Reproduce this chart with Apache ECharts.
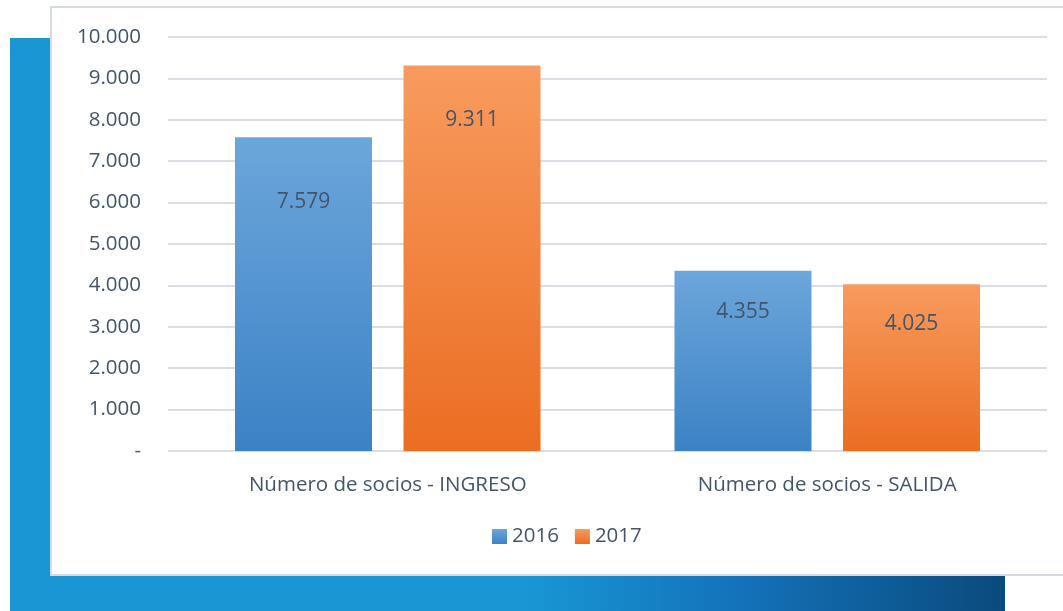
<!DOCTYPE html>
<html lang="es">
<head>
<meta charset="UTF-8">
<title>Número de socios</title>
<script src="https://cdn.jsdelivr.net/npm/echarts@6/dist/echarts.min.js"></script>
<style>
  html, body { margin: 0; padding: 0; background: #fff; }
  #main { width: 1063px; height: 611px; }
</style>
</head>
<body>
<div id="main"></div>
<script>
// datos
var categorias = ['Número de socios - INGRESO', 'Número de socios - SALIDA'];
var anios = ['2016', '2017'];
var valores2016 = [7579, 4355];
var valores2017 = [9311, 4025];
var ticksY = [0, 1000, 2000, 3000, 4000, 5000, 6000, 7000, 8000, 9000, 10000];

var txt = '#44546A';
var fuente = '"Open Sans", "Noto Sans", sans-serif';

function miles(v) {
  if (v === 0) return '-';
  return String(v).replace(/\B(?=(\d{3})+(?!\d))/g, '.');
}

function degradado(a, b) {
  return new echarts.graphic.LinearGradient(0, 0, 0, 1, [
    { offset: 0, color: a }, { offset: 1, color: b }
  ]);
}

var chart = echarts.init(document.getElementById('main'));

chart.setOption({
  animation: false,
  textStyle: { fontFamily: fuente },
  graphic: [
    // franja azul izquierda
    { type: 'rect', z: -10, shape: { x: 10, y: 38, width: 42, height: 573 }, style: { fill: '#1897D4' } },
    // franja azul inferior
    { type: 'rect', z: -10, shape: { x: 10, y: 573, width: 995, height: 38 },
      style: { fill: new echarts.graphic.LinearGradient(0, 0, 1, 0, [
        { offset: 0, color: '#1897D4' },
        { offset: 0.52, color: '#1897D4' },
        { offset: 0.72, color: '#1474BC' },
        { offset: 1, color: '#0A4A7D' }
      ]) } },
    // panel blanco
    { type: 'rect', z: -5, shape: { x: 51, y: 7, width: 1020, height: 568 },
      style: { fill: '#fff', stroke: '#D6DCE4', lineWidth: 2 } }
  ],
  grid: { left: 168, right: 16, top: 37, bottom: 160 },
  legend: {
    data: anios,
    left: 487, top: 521,
    itemWidth: 15, itemHeight: 15, itemGap: 16,
    icon: 'rect',
    textStyle: { color: txt, fontSize: 20.5, fontFamily: fuente }
  },
  xAxis: {
    type: 'category',
    data: categorias,
    axisLine: { show: false },
    axisTick: { show: false },
    axisLabel: { color: txt, fontSize: 20.5, margin: 24 }
  },
  yAxis: {
    type: 'value',
    min: ticksY[0], max: ticksY[ticksY.length - 1], interval: 1000,
    axisLine: { show: false },
    axisTick: { show: false },
    splitLine: { lineStyle: { color: '#D9DEE5', width: 2 } },
    axisLabel: { color: txt, fontSize: 20.5, margin: 27, formatter: miles }
  },
  series: [
    {
      name: anios[0], type: 'bar',
      barWidth: 137, barGap: '23%',
      itemStyle: { color: degradado('#6CA6DB', '#3B82C5') },
      label: { show: true, position: 'insideTop', color: txt, fontSize: 21,
        formatter: function (p) { return miles(p.value); } },
      data: valores2016.map(function (v, i) {
        return { value: v, label: { distance: [54, 31][i] } };
      })
    },
    {
      name: anios[1], type: 'bar',
      barWidth: 137,
      itemStyle: { color: degradado('#F89B5E', '#EB6D22') },
      label: { show: true, position: 'insideTop', color: txt, fontSize: 21,
        formatter: function (p) { return miles(p.value); } },
      data: valores2017.map(function (v, i) {
        return { value: v, label: { distance: [44, 29][i] } };
      })
    }
  ]
});
</script>
</body>
</html>
